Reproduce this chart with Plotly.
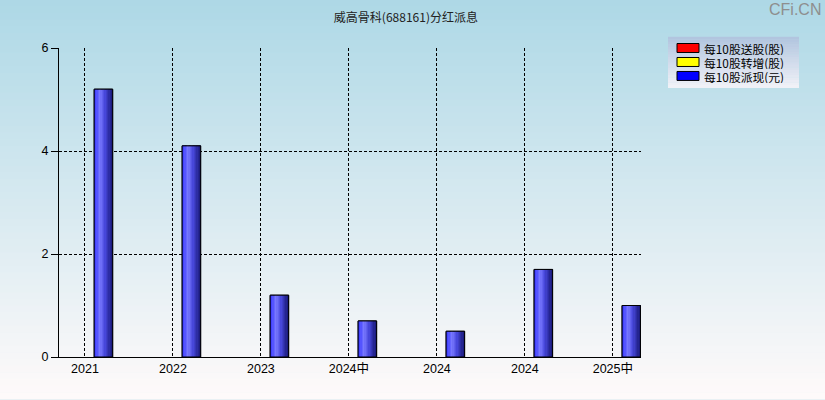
import numpy as np
import plotly.graph_objects as go

# 威高骨科(688161) 分红派息
tick_labels = ["2021", "2022", "2023", "2024中", "2024", "2024", "2025中"]
song_gu = [0, 0, 0, 0, 0, 0, 0]          # 每10股送股(股)
zhuan_zeng = [0, 0, 0, 0, 0, 0, 0]       # 每10股转增(股)
pai_xian = [5.2, 4.1, 1.2, 0.7, 0.5, 1.7, 1.0]  # 每10股派现(元)
series_names = ["每10股送股(股)", "每10股转增(股)", "每10股派现(元)"]
series_colors = ["#ff0000", "#ffff00", "#0000ff"]

pos = list(range(len(tick_labels)))

W, H = 825, 400
ml, mr, mt, mb = 59, 184, 48, 42.5
pw, ph = W - ml - mr, H - mt - mb

OFF, BW = 0.105, 0.21
FONT = "Liberation Sans, Noto Sans CJK SC, sans-serif"
CJK = "Noto Sans CJK SC, sans-serif"


def px_x(x):
    return (x - ml) / pw


def px_y(y):
    return (H - mb - y) / ph


def mix(c1, c2, t):
    return tuple(int(round(a + (b - a) * t)) for a, b in zip(c1, c2))


def grad(stops, t):
    for (p0, c0), (p1, c1) in zip(stops[:-1], stops[1:]):
        if p0 <= t <= p1:
            return mix(c0, c1, (t - p0) / (p1 - p0))
    return stops[-1][1]


fig = go.Figure()

for name, vals, col in zip(series_names, [song_gu, zhuan_zeng, pai_xian], series_colors):
    fig.add_trace(go.Bar(x=pos, y=vals, name=name, offset=OFF, width=BW,
                         marker=dict(color=col, line=dict(color="black", width=1))))

# shaded bar body, drawn as thin strips
bar_stops = [(0.0, (40, 40, 255)), (0.33, (122, 122, 255)), (0.6, (72, 72, 220)), (1.0, (24, 24, 118))]
n = 14
for i in range(n):
    c = grad(bar_stops, (i + 0.5) / n)
    fig.add_trace(go.Bar(x=pos, y=pai_xian, offset=OFF + i * BW / n, width=BW / n + 0.002,
                         marker=dict(color="rgb(%d,%d,%d)" % c, line=dict(width=0)),
                         hoverinfo="skip"))
fig.add_trace(go.Bar(x=pos, y=pai_xian, offset=OFF, width=BW, hoverinfo="skip",
                     marker=dict(color="rgba(0,0,0,0)", line=dict(color="black", width=1))))

# page background gradient
shapes = []
bg_top, bg_bot = (173, 216, 230), (255, 250, 250)
steps = 60
y_lo, y_hi = -mb / ph, 1 + mt / ph
for i in range(steps):
    t = i / steps
    c = mix(bg_top, bg_bot, (i + 0.5) / steps)
    shapes.append(dict(type="rect", xref="paper", yref="paper", layer="below",
                       x0=-ml / pw - 0.01, x1=1 + mr / pw + 0.01,
                       y1=y_hi - t * (y_hi - y_lo) + 0.002, y0=y_hi - (t + 1 / steps) * (y_hi - y_lo),
                       fillcolor="rgb(%d,%d,%d)" % c, line=dict(width=0)))

# legend box gradient
lx0, lx1, ly0, ly1 = 668, 799, 37, 88
lg_top, lg_bot = (176, 196, 222), (242, 242, 248)
lsteps = 20
for i in range(lsteps):
    c = mix(lg_top, lg_bot, (i + 0.5) / lsteps)
    ya = ly0 + (ly1 - ly0) * i / lsteps
    yb = ly0 + (ly1 - ly0) * (i + 1) / lsteps
    shapes.append(dict(type="rect", xref="paper", yref="paper", layer="below",
                       x0=px_x(lx0), x1=px_x(lx1), y0=px_y(yb), y1=px_y(ya) + 0.001,
                       fillcolor="rgb(%d,%d,%d)" % c, line=dict(width=0)))

# legend entries
annotations = []
for k, (name, col) in enumerate(zip(series_names, series_colors)):
    yc = 48 + 14 * k
    shapes.append(dict(type="rect", xref="paper", yref="paper",
                       x0=px_x(677), x1=px_x(699), y0=px_y(yc + 4.5), y1=px_y(yc - 4.5),
                       fillcolor=col, line=dict(color="black", width=1)))
    annotations.append(dict(text=name, xref="paper", yref="paper", x=px_x(702), y=px_y(yc),
                            xanchor="left", yanchor="middle", showarrow=False, height=14,
                            font=dict(family=CJK, size=11.8, color="black")))

annotations.append(dict(text="CFi.CN", xref="paper", yref="paper",
                        x=px_x(823), y=px_y(9), xanchor="right", yanchor="middle", showarrow=False,
                        font=dict(family="Liberation Sans", size=16, color="#8e8e8e")))

fig.update_layout(
    width=W, height=H,
    margin=dict(l=ml, r=mr, t=mt, b=mb),
    paper_bgcolor="rgb(214,233,239)",
    plot_bgcolor="rgba(0,0,0,0)",
    barmode="overlay",
    showlegend=False,
    shapes=shapes,
    annotations=annotations,
    font=dict(family=FONT, size=12, color="black"),
    title=dict(text="威高骨科(688161)分红派息", xref="container", x=0.492, xanchor="center",
               y=1 - 18 / H, yanchor="middle",
               font=dict(family=CJK, size=12, color="#222222")),
)

fig.update_xaxes(range=[-0.295, 6.32], tickvals=pos, ticktext=tick_labels,
                 showline=True, linecolor="black", linewidth=1, ticks="",
                 showgrid=True, gridcolor="black", gridwidth=1, griddash="3px,2px",
                 zeroline=False, tickfont=dict(size=12.5, family=FONT))
fig.update_yaxes(range=[0, 6], tickvals=[0, 2, 4, 6],
                 showline=True, linecolor="black", linewidth=1,
                 ticks="outside", ticklen=7, tickcolor="black",
                 showgrid=True, gridcolor="black", gridwidth=1, griddash="3px,2px",
                 zeroline=False, tickfont=dict(size=12.5, family=FONT))

fig.write_html("out.html", config={"displayModeBar": False},
               post_script="document.body.style.margin='0';")
